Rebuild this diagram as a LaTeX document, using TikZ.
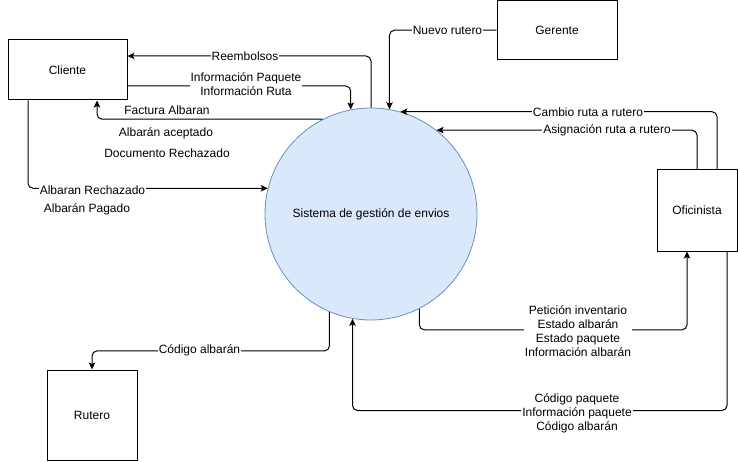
\documentclass[tikz,border=0pt]{standalone}
\usepackage{fontspec}
\setmainfont{Liberation Sans}
\usetikzlibrary{arrows.meta}
\definecolor{circfill}{HTML}{DAE8FC}
\definecolor{circdraw}{HTML}{6C8EBF}
\begin{document}
\begin{tikzpicture}[x=1pt,y=-1pt,
  font=\fontsize{12}{13.8}\selectfont,
  entity/.style={draw=black,line width=1pt,fill=white,inner sep=0pt,anchor=center},
  flow/.style={draw=black,line width=1pt,rounded corners=5pt,-{Stealth[length=7pt,width=6.5pt,inset=1.5pt]}},
  lbl/.style={fill=white,inner sep=1pt,align=center},
  freelbl/.style={inner sep=1pt,align=center}]
\useasboundingbox (0,0) rectangle (738,462);
% entities
\node[entity,minimum width=119pt,minimum height=60pt] (cli) at (67.5,70) {Cliente};
\node[entity,minimum width=120pt,minimum height=59.5pt] (ger) at (557,30.25) {Gerente};
\node[entity,minimum width=80pt,minimum height=81pt] (ofi) at (697,210.5) {Oficinista};
\node[entity,minimum width=90pt,minimum height=90pt] (rut) at (92,415) {Rutero};
\node[circle,draw=circdraw,fill=circfill,line width=0.8pt,minimum size=212pt,inner sep=0pt] (sis) at (371,214) {Sistema de gestión de envios};
% flows
\draw[flow] (sis.north) |- ([yshift=14pt]cli.east);
\draw[flow] ([yshift=-16pt]cli.east) -| (sis.101.4);
\draw[flow] (sis.117.5) -| ([xshift=29.5pt]cli.south);
\draw[flow] ([xshift=-39.5pt]cli.south) |- (sis.166.9);
\draw[flow] (ger.west) -| (sis.80.8);
\draw[flow] ([xshift=20pt]ofi.north) |- (sis.74.2);
\draw[flow] (ofi.north) |- (sis.52.4);
\draw[flow] (sis.-63.7) -- ++(0,21) -| ([xshift=-10pt]ofi.south);
\draw[flow] ([xshift=30pt]ofi.south) -- ++(0,159) -| (sis.-100.3);
\draw[flow] (sis.-113.4) -- ++(0,39) -| (rut.north);
% labels
\node[lbl] (l1) at (245,56) {Reembolsos};
\node[lbl] (l2) at (246,84) {Información Paquete\\Información Ruta};
\node[freelbl] (l3a) at (167,110) {Factura Albaran};
\node[freelbl] (l3b) at (166,133) {Albarán aceptado};
\node[freelbl] (l3c) at (167,153) {Documento Rechazado};
\node[lbl] (l4a) at (92.5,190) {Albaran Rechazado};
\node[freelbl] (l4b) at (87,209) {Albarán Pagado};
\node[lbl] (l5) at (447.5,30) {Nuevo rutero};
\node[lbl] (l6) at (588,112) {Cambio ruta a rutero};
\node[lbl] (l7) at (607,130) {Asignación ruta a rutero};
\node[lbl] (l8) at (578,331) {Petición inventario\\Estado albarán\\Estado paquete\\Información albarán};
\node[lbl] (l9) at (577,413.5) {Código paquete\\Información paquete\\Código albarán};
\node[lbl] (l10) at (199.5,350) {Código albarán};
\end{tikzpicture}
\end{document}
